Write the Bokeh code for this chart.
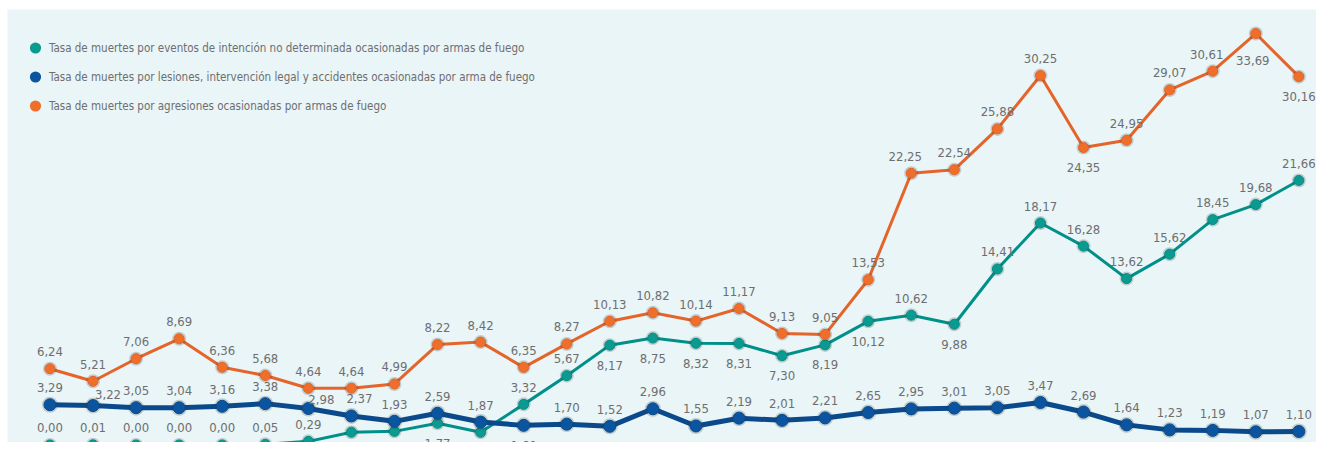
from bokeh.plotting import figure
from bokeh.models import Range1d, ColumnDataSource, Legend, LegendItem
from bokeh.core.properties import value
from bokeh.embed import file_html
from bokeh.resources import INLINE

# ---------------- data ----------------
idx = list(range(30))
tasa_indeterminada = [0.00, 0.01, 0.00, 0.00, 0.00, 0.05, 0.29, 1.04, 1.11, 1.77, 1.03, 3.32, 5.67, 8.17, 8.75,
                      8.32, 8.31, 7.30, 8.19, 10.12, 10.62, 9.88, 14.41, 18.17, 16.28, 13.62, 15.62, 18.45, 19.68, 21.66]
tasa_lesiones = [3.29, 3.22, 3.05, 3.04, 3.16, 3.38, 2.98, 2.37, 1.93, 2.59, 1.87, 1.60, 1.70, 1.52, 2.96,
                 1.55, 2.19, 2.01, 2.21, 2.65, 2.95, 3.01, 3.05, 3.47, 2.69, 1.64, 1.23, 1.19, 1.07, 1.10]
tasa_agresiones = [6.24, 5.21, 7.06, 8.69, 6.36, 5.68, 4.64, 4.64, 4.99, 8.22, 8.42, 6.35, 8.27, 10.13, 10.82,
                   10.14, 11.17, 9.13, 9.05, 13.53, 22.25, 22.54, 25.88, 30.25, 24.35, 24.95, 29.07, 30.61, 33.69, 30.16]

series_names = [
    "Tasa de muertes por eventos de intención no determinada ocasionadas por armas de fuego",
    "Tasa de muertes por lesiones, intervención legal y accidentes ocasionadas por arma de fuego",
    "Tasa de muertes por agresiones ocasionadas por armas de fuego",
]

# label placement (layout only): indices whose value label sits below the point
below_indeterminada = [7, 8, 9, 10, 13, 14, 15, 16, 17, 18, 19, 21]
below_lesiones = [11]
below_agresiones = [24, 28, 29]
# small horizontal nudges of labels (layout only): index -> px
nudge_lesiones = {1: 15, 6: 13, 7: 8}
nudge_agresiones = {20: -6, 27: -6, 28: -3}

# ---------------- styles ----------------
FONT = "DejaVu Sans Condensed, Roboto, sans-serif"
LABEL_COLOR = "#6e6e70"
C_TEAL, C_TEAL_LINE = "#0a9a90", "#009089"
C_BLUE, C_BLUE_LINE = "#0b55a0", "#0a4a8c"
C_ORANGE, C_ORANGE_LINE = "#ef6e2a", "#e4642a"

p = figure(width=1316, height=442, output_backend="svg", toolbar_location=None,
           x_range=Range1d(-0.986, 29.41), y_range=Range1d(0.197, 35.66),
           x_axis_location=None, y_axis_location=None,
           min_border_left=7, min_border_top=9, min_border_right=0, min_border_bottom=0,
           background_fill_color="#e9f5f6", border_fill_color="white", outline_line_color=None)
p.grid.visible = False


def add_series(vals, line_color, dot_color, lw, msize, below, nudge, up_off=17, dn_off=20, extra=None):
    src = ColumnDataSource(dict(x=idx, y=vals))
    p.line("x", "y", source=src, line_color=line_color, line_width=lw, line_join="round")
    p.scatter("x", "y", source=src, size=msize + 4, fill_color="#3a3a3a", fill_alpha=0.22, line_color=None)
    p.scatter("x", "y", source=src, size=msize, fill_color=dot_color,
              line_color=line_color, line_width=1)
    labels = [f"{v:.2f}".replace(".", ",") for v in vals]
    yo = [dn_off if i in below else -up_off for i in idx]
    if extra:
        for k, v in extra.items():
            yo[k] = v
    xo = [nudge.get(i, 0) for i in idx]
    lsrc = ColumnDataSource(dict(x=idx, y=vals, t=labels, xo=xo, yo=yo))
    p.text("x", "y", text="t", source=lsrc, x_offset="xo", y_offset="yo",
           text_align="center", text_baseline="middle", text_font=value(FONT),
           text_font_size="13px", text_color=LABEL_COLOR)
    return src


srcs = [
    add_series(tasa_indeterminada, C_TEAL_LINE, C_TEAL, 3, 10, below_indeterminada, {}),
    add_series(tasa_lesiones, C_BLUE_LINE, C_BLUE, 5, 12, below_lesiones, nudge_lesiones,
               extra={1: -11, 6: -9}),
    add_series(tasa_agresiones, C_ORANGE_LINE, C_ORANGE, 3, 10, below_agresiones, nudge_agresiones,
               extra={28: 27}),
]

# legend with dot-only glyphs (hidden renderers used only as legend swatches)
items = []
for name, col, s in zip(series_names, [C_TEAL, C_BLUE, C_ORANGE], srcs):
    r = p.scatter("x", "y", source=s, size=12, fill_color=col, line_color=None, visible=False)
    items.append(LegendItem(label=name, renderers=[r], index=0))
leg = Legend(items=items, location=(14, 322), glyph_width=28, glyph_height=29, label_height=20,
             spacing=0, label_standoff=0, padding=0, margin=0,
             background_fill_alpha=0, border_line_color=None,
             inactive_fill_alpha=0,
             label_text_font=FONT, label_text_font_size="11.5px", label_text_color=LABEL_COLOR)
p.add_layout(leg, "center")

open("out.html", "w").write(file_html(p, INLINE))
